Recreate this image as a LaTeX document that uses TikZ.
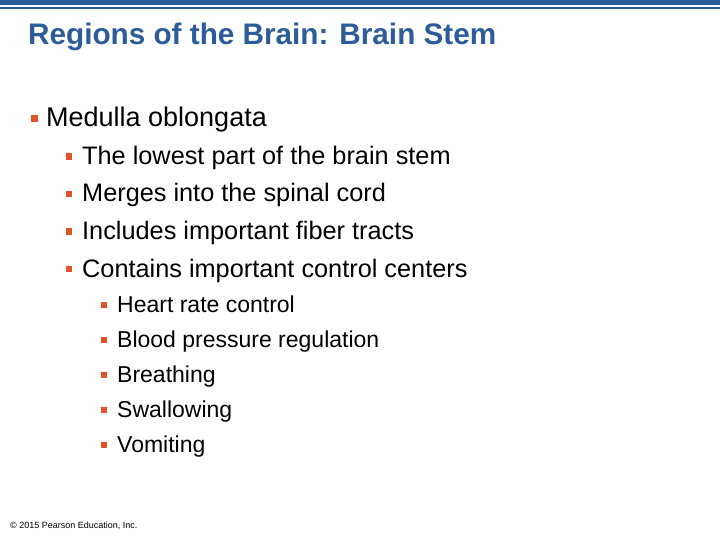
\documentclass[tikz,border=0pt]{standalone}
\usepackage{fontspec}
\setmainfont{Liberation Sans}
\usepackage{tikz}
\usetikzlibrary{positioning}
\definecolor{slideblue}{HTML}{2C5C99}
\definecolor{bulletorange}{HTML}{E0522A}
\tikzset{
  lvlone/.style={anchor=base west,inner sep=0,font=\fontsize{27}{32}\selectfont},
  lvltwo/.style={anchor=base west,inner sep=0,font=\fontsize{25.3}{30}\selectfont},
  lvlthree/.style={anchor=base west,inner sep=0,font=\fontsize{23}{27}\selectfont},
  sq/.style={fill=bulletorange,inner sep=0,minimum size=#1},
}
\newcommand{\bul}[3]{\node[sq=#3] at (#1,#2) {};}
\begin{document}
\begin{tikzpicture}[x=1pt,y=1pt]
  \useasboundingbox (0,0) rectangle (720,-540);
  % header bars
  \fill[slideblue] (0,0) rectangle (720,-5);
  \fill[slideblue] (0,-7.5) rectangle (720,-9.5);
  \node[anchor=base west,inner sep=0,text=slideblue,font=\fontsize{29.7}{34}\selectfont\bfseries] (title) at (28,-45) {Regions of the Brain: Brain Stem};
  % level one
  \bul{34}{-119}{7}
  \node[lvlone] (medulla) at (46,-127) {Medulla oblongata};
  % level two
  \foreach \t [count=\i] in {The lowest part of the brain stem,Merges into the spinal cord,Includes important fiber tracts,Contains important control centers}{
    \pgfmathsetmacro{\yy}{127+37.5*\i}
    \bul{69}{8-\yy}{6.5}
    \node[lvltwo] (two\i) at (82,-\yy) {\t};
  }
  % level three
  \foreach \t [count=\i] in {Heart rate control,Blood pressure regulation,Breathing,Swallowing,Vomiting}{
    \pgfmathsetmacro{\yy}{277+35*\i}
    \bul{104}{7-\yy}{6}
    \node[lvlthree] (three\i) at (117,-\yy) {\t};
  }
  \node[anchor=base west,inner sep=0,font=\fontsize{9}{10}\selectfont] (copy) at (10,-528) {\textcopyright{} 2015 Pearson Education, Inc.};
\end{tikzpicture}
\end{document}
